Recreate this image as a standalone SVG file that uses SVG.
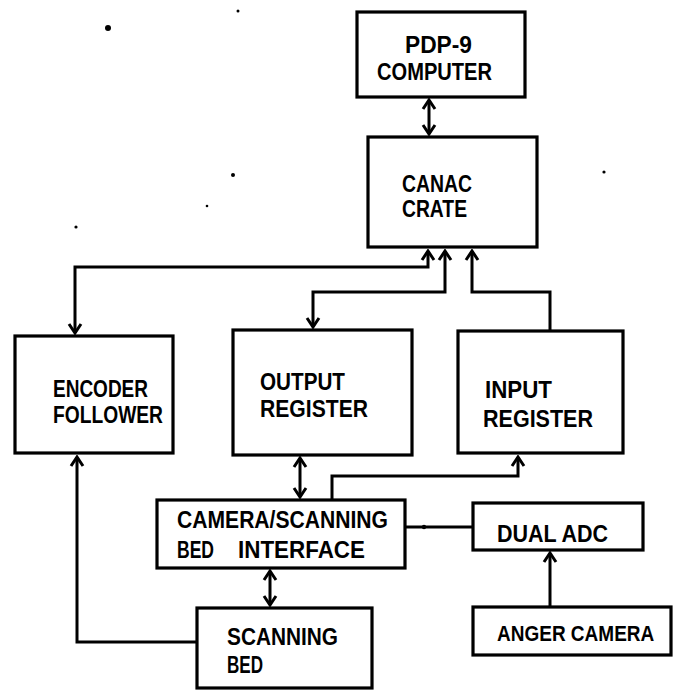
<svg xmlns="http://www.w3.org/2000/svg" width="676" height="692" viewBox="0 0 676 692">
<defs>
<style>
.box{fill:#fff;stroke:#000;stroke-width:3.2;stroke-linejoin:miter}
.ln{fill:none;stroke:#000;stroke-width:3}
.t{font-family:"Liberation Sans","DejaVu Sans",sans-serif;font-weight:bold;font-size:24px;fill:#000}
.speck{fill:#000}
</style>
<marker id="ah" viewBox="-12 -8 14 16" markerWidth="14" markerHeight="16" refX="0" refY="0" orient="auto-start-reverse" markerUnits="userSpaceOnUse">
<path d="M-9,-6 L0,0 L-9,6" fill="none" stroke="#000" stroke-width="3"/>
</marker>
</defs>
<rect width="676" height="692" fill="#fff"/>

<g id="specks">
<circle class="speck" cx="108" cy="28" r="3"/>
<circle class="speck" cx="238" cy="11" r="1.5"/>
<circle class="speck" cx="233" cy="175" r="2"/>
<circle class="speck" cx="207" cy="206" r="1.3"/>
<circle class="speck" cx="76" cy="227" r="1.6"/>
<circle class="speck" cx="604" cy="172" r="1.6"/>
<circle class="speck" cx="387" cy="175" r="1.5"/>
<circle class="speck" cx="455" cy="232" r="1.5"/>
<circle class="speck" cx="222" cy="543" r="1.3"/>
</g>

<g id="connectors">
<line class="ln" x1="429" y1="100" x2="429" y2="134" marker-start="url(#ah)" marker-end="url(#ah)"/>
<polyline class="ln" points="428,251 428,267 75,267 75,333" marker-start="url(#ah)" marker-end="url(#ah)"/>
<polyline class="ln" points="445,251 445,292 313,292 313,327" marker-start="url(#ah)" marker-end="url(#ah)"/>
<polyline class="ln" points="550,330 550,292 472,292 472,251" marker-end="url(#ah)"/>
<line class="ln" x1="300" y1="458" x2="300" y2="497" marker-start="url(#ah)" marker-end="url(#ah)"/>
<polyline class="ln" points="332,500 332,476 518,476 518,457" marker-end="url(#ah)"/>
<line class="ln" x1="405" y1="527" x2="473" y2="527"/>
<circle class="speck" cx="424" cy="527" r="2.2"/>
<line class="ln" x1="550" y1="607" x2="550" y2="553" marker-end="url(#ah)"/>
<line class="ln" x1="270" y1="571" x2="270" y2="605" marker-start="url(#ah)" marker-end="url(#ah)"/>
<polyline class="ln" points="197,642 77,642 77,457" marker-end="url(#ah)"/>
</g>

<g id="pdp9">
<rect class="box" x="357" y="12" width="168" height="85"/>
<text class="t" x="405" y="53" textLength="67" lengthAdjust="spacingAndGlyphs">PDP-9</text>
<text class="t" x="377" y="80" textLength="115" lengthAdjust="spacingAndGlyphs">COMPUTER</text>
</g>

<g id="canac">
<rect class="box" x="368" y="137" width="169" height="110"/>
<text class="t" x="402" y="192" textLength="70" lengthAdjust="spacingAndGlyphs">CANAC</text>
<text class="t" x="402" y="217" textLength="65" lengthAdjust="spacingAndGlyphs">CRATE</text>
</g>

<g id="encoder">
<rect class="box" x="15" y="336" width="158" height="117"/>
<text class="t" x="53" y="397" textLength="95" lengthAdjust="spacingAndGlyphs">ENCODER</text>
<text class="t" x="53" y="423" textLength="110" lengthAdjust="spacingAndGlyphs">FOLLOWER</text>
</g>

<g id="output">
<rect class="box" x="233" y="330" width="179" height="125"/>
<text class="t" x="260" y="390" textLength="85" lengthAdjust="spacingAndGlyphs">OUTPUT</text>
<text class="t" x="260" y="417" textLength="108" lengthAdjust="spacingAndGlyphs">REGISTER</text>
</g>

<g id="input">
<rect class="box" x="458" y="331" width="165" height="122"/>
<text class="t" x="485" y="398" textLength="67" lengthAdjust="spacingAndGlyphs">INPUT</text>
<text class="t" x="483" y="427" textLength="110" lengthAdjust="spacingAndGlyphs">REGISTER</text>
</g>

<g id="interface">
<rect class="box" x="157" y="500" width="248" height="68"/>
<text class="t" x="177" y="528" textLength="211" lengthAdjust="spacingAndGlyphs">CAMERA/SCANNING</text>
<text class="t" x="177" y="558" textLength="37" lengthAdjust="spacingAndGlyphs">BED</text>
<text class="t" x="238" y="558" textLength="127" lengthAdjust="spacingAndGlyphs">INTERFACE</text>
</g>

<g id="dualadc">
<rect class="box" x="473" y="503" width="170" height="47"/>
<text class="t" x="497" y="542" textLength="111" lengthAdjust="spacingAndGlyphs">DUAL ADC</text>
</g>

<g id="anger">
<rect class="box" x="473" y="607" width="198" height="48"/>
<text class="t" transform="translate(497,641) scale(1,1.15)" x="0" y="0" style="font-size:19px">ANGER CAMERA</text>
</g>

<g id="scanbed">
<rect class="box" x="197" y="608" width="175" height="80"/>
<text class="t" x="227" y="645" textLength="111" lengthAdjust="spacingAndGlyphs">SCANNING</text>
<text class="t" x="227" y="673" textLength="36" lengthAdjust="spacingAndGlyphs">BED</text>
</g>
</svg>
